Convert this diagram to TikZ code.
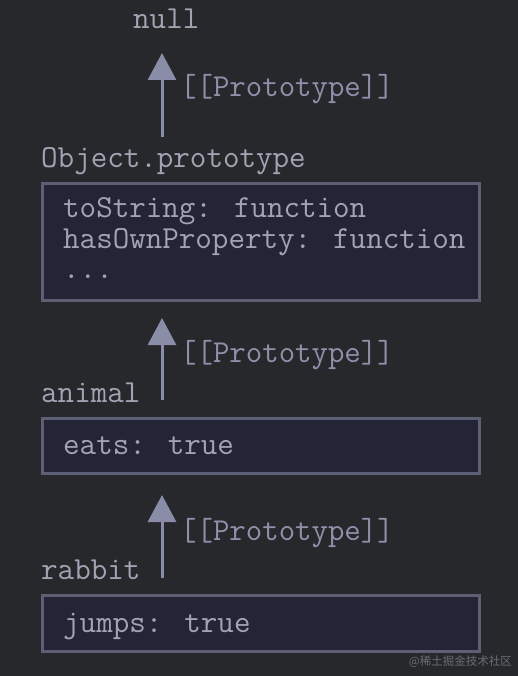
\documentclass[tikz,border=0pt]{standalone}
\usepackage{fontspec}
\newfontfamily\cjk{Noto Sans CJK SC}
\usetikzlibrary{arrows.meta}
\definecolor{bgc}{HTML}{27282C}
\definecolor{boxfill}{HTML}{232537}
\definecolor{boxline}{HTML}{5D5F74}
\definecolor{txt}{HTML}{A2A3B3}
\definecolor{lbl}{HTML}{8E91AA}
\definecolor{arr}{HTML}{8A8DA8}
\definecolor{wm}{HTML}{6C6D73}
\tikzset{
  code/.style={font=\ttfamily\fontsize{32.1}{34}\selectfont, text=txt, inner sep=0pt, anchor=base west},
  protolbl/.style={font=\ttfamily\fontsize{31.9}{34}\selectfont, text=lbl, inner sep=0pt, anchor=base west},
  objbox/.style={draw=boxline, fill=boxfill, line width=3pt},
  protoarrow/.style={draw=arr, line width=3pt, -{Triangle[width=28pt,length=27pt]}},
}
\begin{document}
\begin{tikzpicture}[x=1pt,y=-1pt]
\fill[bgc] (0,0) rectangle (518,676);
\useasboundingbox (0,0) rectangle (518,676);
% boxes
\draw[objbox] (42.5,183.5) rectangle (479.5,300.5);
\draw[objbox] (42.5,418.5) rectangle (479.5,473.5);
\draw[objbox] (42.5,595.5) rectangle (479.5,651.5);
% texts
\node[code] (null) at (133,29) {null};
\node[code] (objp) at (41,168) {Object.prototype};
\node[code] (l1) at (63,218) {toString: function};
\node[code] (l2) at (63,248) {hasOwnProperty: function};
\node[code] (l3) at (63,278) {...};
\node[code] (animal) at (41,402) {animal};
\node[code] (eats) at (63,454) {eats: true};
\node[code] (rabbit) at (41,579) {rabbit};
\node[code] (jumps) at (63,632) {jumps: true};
% labels
\node[protolbl] (p1) at (180,97) {[[Prototype]]};
\node[protolbl] (p2) at (180,362) {[[Prototype]]};
\node[protolbl] (p3) at (180,540) {[[Prototype]]};
% arrows
\coordinate (a1s) at (162,137);
\coordinate (a1e) at (162,53);
\coordinate (a2s) at (162,400);
\coordinate (a2e) at (162,318);
\coordinate (a3s) at (162,578);
\coordinate (a3e) at (162,495);
\draw[protoarrow] (a1s) -- (a1e);
\draw[protoarrow] (a2s) -- (a2e);
\draw[protoarrow] (a3s) -- (a3e);
% watermark
\node[font=\cjk\fontsize{11.5}{13}\selectfont, text=wm, inner sep=0pt, anchor=east] (wmark) at (512,662) {@稀土掘金技术社区};
\end{tikzpicture}
\end{document}
